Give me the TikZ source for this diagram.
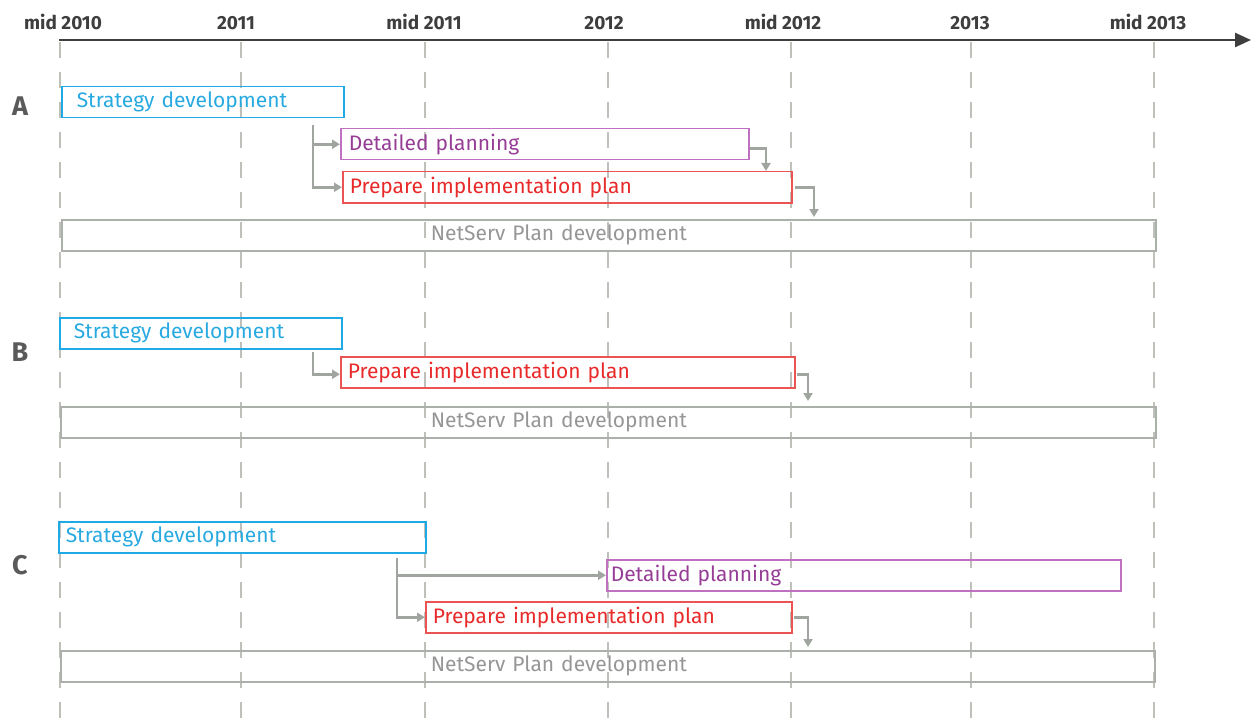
\documentclass[tikz,border=0pt]{standalone}
\usepackage{fontspec}
\setmainfont{Fira Sans}
\usetikzlibrary{arrows.meta,calc}
\definecolor{cyanb}{RGB}{30,170,228}
\definecolor{cyant}{RGB}{40,170,225}
\definecolor{purb}{RGB}{192,112,192}
\definecolor{purt}{RGB}{150,62,150}
\definecolor{redb}{RGB}{236,84,84}
\definecolor{redt}{RGB}{232,42,42}
\definecolor{grayb}{RGB}{172,176,170}
\definecolor{grayt}{RGB}{150,150,150}
\definecolor{gridc}{RGB}{192,192,186}
\definecolor{conc}{RGB}{160,165,160}
\definecolor{axisc}{RGB}{62,62,62}
\definecolor{letc}{RGB}{90,90,90}
\tikzset{
  bar/.style={draw, line width=1.5pt, rectangle, anchor=north west, minimum height=31pt,
    inner ysep=0pt, align=left, font=\fontsize{21}{23}\selectfont},
  cyanbar/.style={bar, draw=cyanb, text=cyant},
  purbar/.style={bar, draw=purb, text=purt},
  redbar/.style={bar, draw=redb, text=redt},
  graybar/.style={bar, draw=grayb, text=grayt},
  conn/.style={draw=conc, line width=2.8pt, -{Triangle[length=8pt,width=9pt]}},
  gridline/.style={draw=gridc, line width=2pt, dash pattern=on 16pt off 14pt},
  yearlbl/.style={font=\bfseries\fontsize{19}{21}\selectfont, text=axisc, inner sep=0pt, anchor=base},
  rowlbl/.style={font=\bfseries\fontsize{27}{29}\selectfont, text=letc, inner sep=0pt},
}
\begin{document}
\begin{tikzpicture}[x=1pt,y=-1pt]
\useasboundingbox (0,0) rectangle (1252,722);
% grid
\foreach \gx in {60,241,425,608,791,971,1154}
  \draw[gridline] (\gx,42) -- (\gx,722);
% axis
\draw[axisc, line width=2.5pt, -{Triangle[length=16pt,width=14pt]}] (59,40) -- (1251,40);
\node[yearlbl] (y1) at (63,30) {mid 2010};
\node[yearlbl] (y2) at (236,30) {2011};
\node[yearlbl] (y3) at (424,30) {mid 2011};
\node[yearlbl] (y4) at (604,30) {2012};
\node[yearlbl] (y5) at (783,30) {mid 2012};
\node[yearlbl] (y6) at (970,30) {2013};
\node[yearlbl] (y7) at (1148,30) {mid 2013};
% row labels
\node[rowlbl] (la) at (20,106) {A};
\node[rowlbl] (lb) at (20,352) {B};
\node[rowlbl] (lc) at (20,565) {C};
% A
\node[cyanbar, inner xsep=15pt, text width=252pt] (sa) at (61,86) {Strategy development};
\node[purbar, inner xsep=8pt, text width=392pt] (dpa) at (340,128) {Detailed planning};
\node[redbar, inner xsep=7pt, text width=435pt] (pia) at (342,171) {Prepare implementation plan};
\node[graybar, inner xsep=0pt, text width=1094pt] (nsa) at (61,219) {\hspace*{369pt}NetServ Plan development};
\coordinate (ja) at (313,125);
\coordinate (ea) at (766,171);
\coordinate (fa) at (814,217);
\draw[conn] (ja) |- (dpa.west);
\draw[conn] (ja) |- (pia.west);
\draw[conn] ([yshift=-4pt]dpa.east) -| (ea);
\draw[conn] ([xshift=2pt]pia.east) -| (fa);
% B
\node[cyanbar, inner xsep=14pt, text width=254pt] (sb) at (59,317) {Strategy development};
\node[redbar, inner xsep=7pt, text width=440pt] (pib) at (340,356) {Prepare implementation plan};
\node[graybar, inner xsep=0pt, text width=1095pt] (nsb) at (60,406) {\hspace*{370pt}NetServ Plan development};
\coordinate (jb) at (313,352);
\coordinate (fb) at (808,401);
\draw[conn] (jb) |- ([yshift=-2pt]pib.west);
\draw[conn] ([xshift=1pt,yshift=-2pt]pib.east) -| (fb);
% C
\node[cyanbar, inner xsep=7pt, text width=353pt] (sc) at (58,521) {Strategy development};
\node[purbar, inner xsep=4pt, text width=506pt] (dpc) at (606,559) {Detailed planning};
\node[redbar, inner xsep=7pt, text width=352pt] (pic) at (425,601) {Prepare implementation plan};
\node[graybar, inner xsep=0pt, text width=1094pt] (nsc) at (60,650) {\hspace*{370pt}NetServ Plan development};
\coordinate (jc) at (397,558);
\coordinate (fc) at (808,647);
\draw[conn] (jc) |- (dpc.west);
\draw[conn] (jc) |- (pic.west);
\draw[conn] ([xshift=1pt]pic.east) -| (fc);
\end{tikzpicture}
\end{document}
